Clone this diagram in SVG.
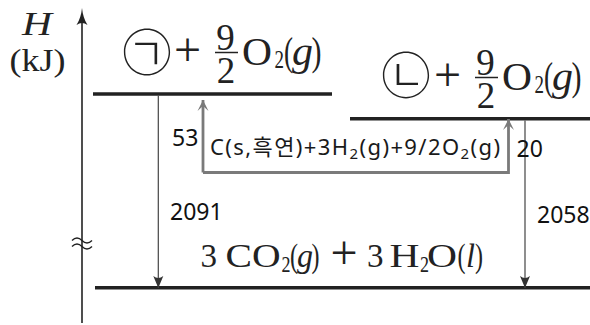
<svg xmlns="http://www.w3.org/2000/svg" width="590" height="325" viewBox="0 0 590 325">
<style>
.m{font-family:"Liberation Serif","Times New Roman",serif;fill:#222}
.it{font-style:italic}
.k{font-family:"Noto Sans CJK KR","Noto Sans",sans-serif;fill:#222;font-weight:300}
.n{font-family:"Noto Sans","Noto Sans CJK KR",sans-serif;font-size:23px;fill:#111}
.lvl{stroke:#222;stroke-width:3.5;fill:none}
.thin{stroke:#444;stroke-width:1.2;fill:none;marker-end:url(#ah)}
.grey{stroke:#7a7a7a;stroke-width:2.8;fill:none;marker-end:url(#gh)}
</style>
<defs>
<marker id="ah" viewBox="-13 -6 14 12" refX="0" refY="0" markerWidth="14" markerHeight="12" markerUnits="userSpaceOnUse" orient="auto">
<path d="M0,0 L-12,-5 Q-8,0 -12,5 Z" fill="#333"/>
</marker>
<marker id="gh" viewBox="-12 -7 13 14" refX="0" refY="0" markerWidth="13" markerHeight="14" markerUnits="userSpaceOnUse" orient="auto">
<path d="M0,0 L-11,-5.5 L-6,0 L-11,5.5 Z" fill="#7a7a7a"/>
</marker>
</defs>

<g id="axis">
<path d="M82,323 V20" stroke="#222" stroke-width="1.6" fill="none"/>
<path d="M82,8 Q83,18 87.5,25 Q82,21 76.5,25 Q81,18 82,8 Z" fill="#222"/>
<path d="M72,240.5 q5,-5 10,0 t10,0 M72,246.5 q5,-5 10,0 t10,0" stroke="#222" stroke-width="1.4" fill="none"/>
<text class="m it" x="22" y="35" font-size="33" textLength="30" lengthAdjust="spacingAndGlyphs">H</text>
<text class="m" x="9.5" y="71" font-size="32" textLength="56" lengthAdjust="spacingAndGlyphs">(kJ)</text>
</g>

<g id="level-a">
<path class="lvl" d="M93,94 H332"/>
<text class="k" x="147" y="71" font-size="50" text-anchor="middle">㉠</text>
<text class="m" x="187.5" y="66" font-size="48" text-anchor="middle">+</text>
<text class="m" x="225.5" y="50" font-size="37" text-anchor="middle">9</text>
<path d="M215,52.5 H238" stroke="#222" stroke-width="1.5"/>
<text class="m" x="226" y="83" font-size="37" text-anchor="middle">2</text>
<text class="m" x="242" y="65" font-size="40" textLength="30" lengthAdjust="spacingAndGlyphs">O</text>
<text class="m" x="274.5" y="68" font-size="26" textLength="9.5" lengthAdjust="spacingAndGlyphs">2</text>
<text class="m" x="284" y="65" font-size="40" textLength="9" lengthAdjust="spacingAndGlyphs">(</text>
<text class="m it" x="292" y="65" font-size="40" textLength="21" lengthAdjust="spacingAndGlyphs">g</text>
<text class="m" x="311.5" y="65" font-size="40" textLength="10" lengthAdjust="spacingAndGlyphs">)</text>
</g>

<g id="level-b">
<path class="lvl" d="M350,118.7 H590"/>
<text class="k" x="406" y="93.5" font-size="50" text-anchor="middle">㉡</text>
<g transform="translate(260,25)">
<text class="m" x="187.5" y="66" font-size="48" text-anchor="middle">+</text>
<text class="m" x="225.5" y="50" font-size="37" text-anchor="middle">9</text>
<path d="M215,52.5 H238" stroke="#222" stroke-width="1.5"/>
<text class="m" x="226" y="83" font-size="37" text-anchor="middle">2</text>
<text class="m" x="242" y="65" font-size="40" textLength="30" lengthAdjust="spacingAndGlyphs">O</text>
<text class="m" x="274.5" y="68" font-size="26" textLength="9.5" lengthAdjust="spacingAndGlyphs">2</text>
<text class="m" x="284" y="65" font-size="40" textLength="9" lengthAdjust="spacingAndGlyphs">(</text>
<text class="m it" x="292" y="65" font-size="40" textLength="21" lengthAdjust="spacingAndGlyphs">g</text>
<text class="m" x="311.5" y="65" font-size="40" textLength="10" lengthAdjust="spacingAndGlyphs">)</text>
</g>
</g>

<g id="level-products">
<path class="lvl" d="M95,287.7 H590"/>
<text class="m" x="200.5" y="267" font-size="33">3</text>
<text class="m" x="225.5" y="267" font-size="33" textLength="55" lengthAdjust="spacingAndGlyphs">CO</text>
<text class="m" x="281.5" y="272" font-size="23" textLength="9" lengthAdjust="spacingAndGlyphs">2</text>
<text class="m" x="290" y="267" font-size="34" textLength="8" lengthAdjust="spacingAndGlyphs">(</text>
<text class="m it" x="297" y="267" font-size="34" textLength="16" lengthAdjust="spacingAndGlyphs">g</text>
<text class="m" x="311.5" y="267" font-size="34" textLength="8" lengthAdjust="spacingAndGlyphs">)</text>
<text class="m" x="344" y="269" font-size="48" text-anchor="middle">+</text>
<text class="m" x="367" y="267" font-size="33">3</text>
<text class="m" x="389.5" y="267" font-size="33" textLength="30" lengthAdjust="spacingAndGlyphs">H</text>
<text class="m" x="420" y="272" font-size="23" textLength="9" lengthAdjust="spacingAndGlyphs">2</text>
<text class="m" x="427" y="267" font-size="33" textLength="30" lengthAdjust="spacingAndGlyphs">O</text>
<text class="m" x="457.5" y="267" font-size="34" textLength="8" lengthAdjust="spacingAndGlyphs">(</text>
<text class="m it" x="466" y="267" font-size="34" textLength="9" lengthAdjust="spacingAndGlyphs">l</text>
<text class="m" x="475" y="267" font-size="34" textLength="8" lengthAdjust="spacingAndGlyphs">)</text>
</g>

<g id="graphite">
<text x="210" y="155" font-size="22" textLength="290" lengthAdjust="spacing" font-family="Noto Sans,Noto Sans CJK KR,sans-serif" fill="#1a1a1a">C(s,흑연)+3H<tspan font-size="15" dy="4">2</tspan><tspan dy="-4">(g)+9/2O</tspan><tspan font-size="15" dy="4">2</tspan><tspan dy="-4">(g)</tspan></text>
</g>

<g id="connectors">
<path class="thin" d="M158.3,95.5 V288"/>
<path class="thin" d="M525,120.5 V288"/>
<path class="grey" d="M203,172.5 V100"/>
<path class="grey" d="M203,172.5 H508.5 V119"/>
<text class="n" x="172" y="146">53</text>
<text class="n" x="170" y="220">2091</text>
<text class="n" x="516.5" y="156.5">20</text>
<text class="n" x="537" y="222.5">2058</text>
</g>
</svg>
